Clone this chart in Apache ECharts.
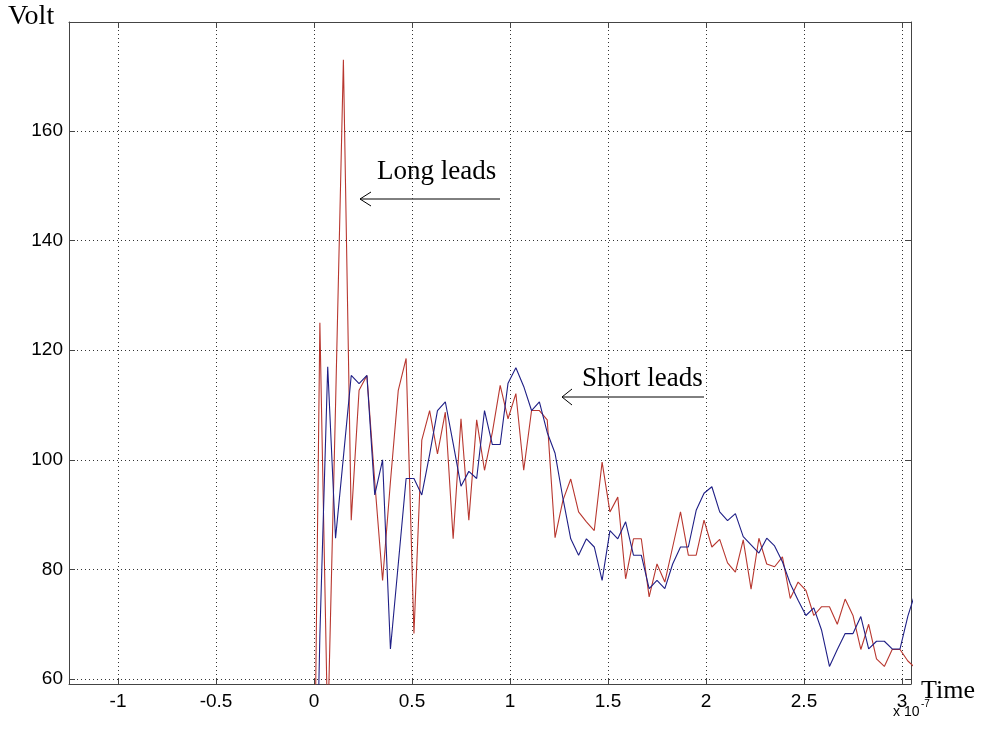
<!DOCTYPE html>
<html><head><meta charset="utf-8">
<script src="https://cdn.jsdelivr.net/npm/echarts@6/dist/echarts.min.js"></script>
<style>html,body{margin:0;padding:0;background:#fff}#c{width:984px;height:743px}</style>
</head><body><div id="c"></div>
<script>
// time in units of 1e-7 s
const timeValues = [-0.01, 0.03, 0.07, 0.11, 0.15, 0.19, 0.23, 0.27, 0.31, 0.35, 0.39,
  0.43, 0.47, 0.51, 0.55, 0.59, 0.63, 0.67, 0.71, 0.75, 0.79,
  0.83, 0.87, 0.91, 0.95, 0.99, 1.03, 1.07, 1.11, 1.15, 1.19,
  1.23, 1.27, 1.31, 1.35, 1.39, 1.43, 1.47, 1.51, 1.55, 1.59,
  1.63, 1.67, 1.71, 1.75, 1.79, 1.83, 1.87, 1.91, 1.95, 1.99,
  2.03, 2.07, 2.11, 2.15, 2.19, 2.23, 2.27, 2.31, 2.35, 2.39,
  2.43, 2.47, 2.51, 2.55, 2.59, 2.63, 2.67, 2.71, 2.75, 2.79,
  2.83, 2.87, 2.91, 2.95, 2.99, 3.03, 3.07];
const longLeads = [0, 125, 50, 110, 173, 89, 112.7, 115.4, 96, 78, 96,
  112.7, 118.5, 68.3, 103.6, 109, 101.1, 108.7, 85.6, 107.5, 89,
  107.3, 98.1, 105, 113.6, 107.5, 112.1, 98.1, 109, 109, 107.3,
  85.8, 92.6, 96.5, 90.5, 88.7, 87.1, 99.6, 90.5, 93.2, 78.3,
  85.6, 85.6, 75, 81, 77.7, 84.1, 90.5, 82.6, 82.6, 89,
  84.1, 85.5, 81.2, 79.5, 85.4, 76.4, 85.7, 81, 80.5, 82.3,
  74.7, 77.7, 76.2, 71.6, 73.2, 73.2, 70, 74.6, 71.6, 65.4,
  70, 63.7, 62.3, 65.4, 65.4, 63.3, 62];
const shortLeads = [0, 68, 117, 85.7, 100.5, 115.4, 113.9, 115.4, 93.6, 100, 65.5,
  81, 96.6, 96.6, 93.6, 101, 109, 110.6, 103, 95.2, 97.9,
  96.6, 109, 102.8, 102.8, 114, 116.8, 113.4, 109, 110.6, 105,
  101.2, 93, 85.6, 82.6, 85.6, 84.1, 78, 87.1, 85.6, 88.7,
  82.6, 82.6, 76.5, 78, 76.5, 81, 84.1, 84.1, 90.8, 93.9,
  95.1, 90.5, 88.9, 90.2, 86, 84.5, 83, 85.7, 84.3, 81.4,
  77.4, 74.4, 71.6, 73, 68.9, 62.3, 65.4, 68.3, 68.3, 71.4,
  65.5, 66.9, 66.9, 65.5, 65.5, 71.5, 76];
const xRange = [-1.25, 3.046];
const yRange = [59.1, 179.9];

const pairs = (ys) => timeValues.map((t, i) => [t, ys[i]]);
const axisColor = '#444';
const serif = '"Liberation Serif", "Times New Roman", serif';
const sans = '"Liberation Sans", Arial, sans-serif';

const chart = echarts.init(document.getElementById('c'), null, {renderer: 'canvas'});
const baseAxis = {
  type: 'value',
  axisLine: {show: true, onZero: false, lineStyle: {color: axisColor, width: 1}},
  axisTick: {show: true, inside: true, length: 6, lineStyle: {color: axisColor}},
};
chart.setOption({
  animation: false,
  backgroundColor: '#fff',
  grid: {left: 69, top: 22, width: 842, height: 662, containLabel: false},
  xAxis: [
    Object.assign({}, baseAxis, {
      position: 'bottom', min: xRange[0], max: xRange[1], splitNumber: 8,
      axisLabel: {color: '#000', fontFamily: sans, fontSize: 19, margin: 8,
        showMinLabel: false, showMaxLabel: false},
      splitLine: {show: true, lineStyle: {type: [1, 3], color: '#333', width: 1}}
    }),
    Object.assign({}, baseAxis, {
      position: 'top', min: xRange[0], max: xRange[1], splitNumber: 8,
      axisLabel: {show: false}, splitLine: {show: false}
    })
  ],
  yAxis: [
    Object.assign({}, baseAxis, {
      position: 'left', min: yRange[0], max: yRange[1], splitNumber: 6,
      axisLabel: {color: '#000', fontFamily: sans, fontSize: 19, margin: 6,
        showMinLabel: false, showMaxLabel: false},
      splitLine: {show: true, lineStyle: {type: [1, 3], color: '#333', width: 1}}
    }),
    Object.assign({}, baseAxis, {
      position: 'right', min: yRange[0], max: yRange[1], splitNumber: 6,
      axisLabel: {show: false}, splitLine: {show: false}
    })
  ],
  series: [
    {name: 'Long leads', type: 'line', xAxisIndex: 0, yAxisIndex: 0, data: pairs(longLeads),
      symbol: 'none', clip: true, lineStyle: {color: '#b8372f', width: 1.1}},
    {name: 'Short leads', type: 'line', xAxisIndex: 0, yAxisIndex: 0, data: pairs(shortLeads),
      symbol: 'none', clip: true, lineStyle: {color: '#1f1f86', width: 1.1}}
  ],
  graphic: [
    {type: 'text', left: 8, top: 3, style: {text: 'Volt', font: '28px ' + serif, fill: '#000'}},
    {type: 'text', left: 921, top: 678, style: {text: 'Time', font: '26px ' + serif, fill: '#000'}},
    {type: 'text', left: 893, top: 705, style: {text: 'x 10', font: '14px ' + sans, fill: '#000'}},
    {type: 'text', left: 921, top: 699, style: {text: '-7', font: '10px ' + sans, fill: '#000'}},
    {type: 'text', left: 377, top: 158, style: {text: 'Long leads', font: '27px ' + serif, fill: '#000'}},
    {type: 'polyline', shape: {points: [[500, 199], [360, 199]]}, style: {stroke: '#000', lineWidth: 1, fill: null}},
    {type: 'polyline', shape: {points: [[371, 192], [360, 199], [371, 206]]}, style: {stroke: '#000', lineWidth: 1, fill: null}},
    {type: 'text', left: 582, top: 365, style: {text: 'Short leads', font: '27px ' + serif, fill: '#000'}},
    {type: 'polyline', shape: {points: [[704, 397], [562, 397]]}, style: {stroke: '#000', lineWidth: 1, fill: null}},
    {type: 'polyline', shape: {points: [[572, 389], [562, 397], [572, 405]]}, style: {stroke: '#000', lineWidth: 1, fill: null}}
  ]
});
</script></body></html>
